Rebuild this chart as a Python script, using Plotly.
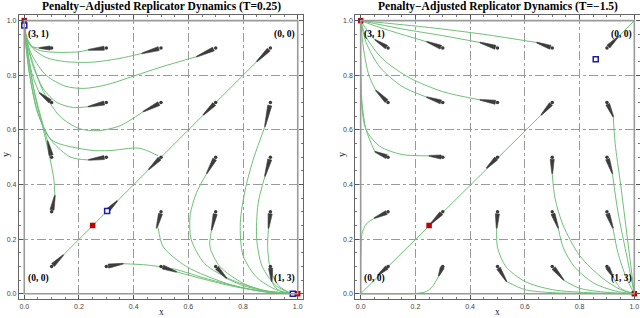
import plotly.graph_objects as go
import numpy as np

TITLES = ["Penalty\u2212Adjusted Replicator Dynamics (T=0.25)",
          "Penalty\u2212Adjusted Replicator Dynamics (T=\u22121.5)"]
TICKS = [0.0, 0.2, 0.4, 0.6, 0.8, 1.0]
TICK_TEXT = ["0.0", "0.2", "0.4", "0.6", "0.8", "1.0"]

# corner payoff labels (x, y, text)
CORNER_X = [0.052, 0.952, 0.052, 0.952]
CORNER_Y = [0.951, 0.951, 0.054, 0.054]
CORNER_T = ["(3, 1)", "(0, 0)", "(0, 0)", "(1, 3)"]

# equilibria
L_red_x, L_red_y = [0.0, 1.0, 0.25], [1.0, 0.0, 0.25]
L_blue_x, L_blue_y = [0.0, 0.303, 0.982], [0.982, 0.303, 0.0]
R_red_x, R_red_y = [0.0, 1.0, 0.25], [1.0, 0.0, 0.25]
R_blue_x, R_blue_y = [0.859], [0.859]

# glyph heads (grid points) and tails, rows y = 0.9 .. 0.1
HEAD_X = [0.1, 0.3, 0.5, 0.7, 0.9] * 5
HEAD_Y = [0.9] * 5 + [0.7] * 5 + [0.5] * 5 + [0.3] * 5 + [0.1] * 5

L_tail_x = [0.055, 0.234, 0.430, 0.630, 0.850,
            0.055, 0.234, 0.435, 0.655, 0.880,
            0.085, 0.235, 0.455, 0.667, 0.880,
            0.112, 0.340, 0.484, 0.685, 0.893,
            0.143, 0.362, 0.557, 0.740, 0.905]
L_tail_y = [0.900, 0.893, 0.880, 0.868, 0.850,
            0.736, 0.685, 0.667, 0.655, 0.612,
            0.560, 0.490, 0.455, 0.440, 0.430,
            0.360, 0.340, 0.240, 0.233, 0.240,
            0.142, 0.110, 0.080, 0.056, 0.045]

R_tail_x = [0.052, 0.241, 0.436, 0.643, 0.942,
            0.055, 0.241, 0.436, 0.660, 0.923,
            0.052, 0.250, 0.460, 0.700, 0.920,
            0.050, 0.255, 0.497, 0.722, 0.922,
            0.063, 0.285, 0.533, 0.742, 0.923]
R_tail_y = [0.930, 0.923, 0.920, 0.920, 0.942,
            0.745, 0.720, 0.710, 0.655, 0.648,
            0.520, 0.505, 0.460, 0.440, 0.440,
            0.277, 0.255, 0.240, 0.240, 0.240,
            0.068, 0.065, 0.045, 0.050, 0.060]

# green trajectories
L_curve_x = [
    [0.143, 0.85],
    [0.055, 0.03, 0.012, 0.002],
    [0.234, 0.2, 0.12, 0.06, 0.02, 0.005, 0.002],
    [0.43, 0.35, 0.25, 0.15, 0.08, 0.03, 0.005, 0.002],
    [0.63, 0.5, 0.4, 0.3, 0.22, 0.15, 0.08, 0.03, 0.005, 0.002],
    [0.234, 0.18, 0.12, 0.07, 0.03, 0.008, 0.002],
    [0.435, 0.35, 0.27, 0.2, 0.13, 0.07, 0.03, 0.008, 0.002],
    [0.055, 0.03, 0.01, 0.002],
    [0.085, 0.06, 0.035, 0.015, 0.002],
    [0.112, 0.108, 0.095, 0.07, 0.04, 0.015, 0.002],
    [0.235, 0.17, 0.1, 0.05, 0.02, 0.005, 0.002],
    [0.49, 0.42, 0.31, 0.24, 0.1, 0.05, 0.02, 0.004, 0.002],
    [0.362, 0.45, 0.55, 0.65, 0.75, 0.85, 0.93, 0.975],
    [0.557, 0.65, 0.75, 0.85, 0.975],
    [0.74, 0.8, 0.88, 0.975],
    [0.905, 0.92, 0.95, 0.975],
    [0.49, 0.508, 0.594, 0.74, 0.874, 0.975],
    [0.685, 0.679, 0.716, 0.801, 0.892, 0.975],
    [0.893, 0.89, 0.9, 0.93, 0.975],
    [0.667, 0.63, 0.607, 0.61, 0.66, 0.76, 0.88, 0.975],
    [0.88, 0.855, 0.85, 0.87, 0.92, 0.975],
    [0.88, 0.84, 0.81, 0.79, 0.8, 0.85, 0.92, 0.975],
]
L_curve_y = [
    [0.142, 0.85],
    [0.9, 0.905, 0.93, 0.975],
    [0.893, 0.886, 0.884, 0.89, 0.91, 0.95, 0.975],
    [0.88, 0.862, 0.848, 0.85, 0.865, 0.9, 0.95, 0.975],
    [0.868, 0.83, 0.797, 0.765, 0.752, 0.76, 0.8, 0.87, 0.94, 0.975],
    [0.685, 0.682, 0.7, 0.75, 0.84, 0.93, 0.975],
    [0.667, 0.615, 0.597, 0.605, 0.65, 0.74, 0.85, 0.93, 0.975],
    [0.736, 0.8, 0.9, 0.975],
    [0.56, 0.65, 0.75, 0.87, 0.975],
    [0.36, 0.42, 0.49, 0.6, 0.72, 0.86, 0.975],
    [0.49, 0.5, 0.56, 0.66, 0.8, 0.92, 0.975],
    [0.505, 0.533, 0.524, 0.526, 0.563, 0.66, 0.8, 0.93, 0.975],
    [0.11, 0.105, 0.09, 0.06, 0.033, 0.012, 0.003, 0.001],
    [0.08, 0.055, 0.03, 0.012, 0.001],
    [0.056, 0.03, 0.01, 0.001],
    [0.045, 0.02, 0.005, 0.001],
    [0.24, 0.172, 0.099, 0.038, 0.007, 0.001],
    [0.233, 0.172, 0.099, 0.038, 0.007, 0.001],
    [0.24, 0.17, 0.09, 0.03, 0.001],
    [0.44, 0.37, 0.29, 0.2, 0.11, 0.05, 0.012, 0.001],
    [0.43, 0.33, 0.2, 0.1, 0.03, 0.001],
    [0.612, 0.5, 0.39, 0.26, 0.14, 0.06, 0.015, 0.001],
]

R_curve_x = [
    [0.052, 0.02, 0.0],
    [0.241, 0.15, 0.07, 0.0],
    [0.436, 0.3, 0.15, 0.0],
    [0.643, 0.45, 0.25, 0.0],
    [0.055, 0.03, 0.01, 0.0],
    [0.241, 0.15, 0.07, 0.02, 0.0],
    [0.436, 0.3, 0.18, 0.08, 0.02, 0.0],
    [0.052, 0.02, 0.005, 0.0, 0.0],
    [0.25, 0.15, 0.07, 0.02, 0.003, 0.0],
    [0.942, 1.0],
    [0.66, 0.0],
    [0.05, 0.02, 0.005, 0.001, 0.0],
    [0.285, 0.265, 0.24, 0.2, 0.1, 0.0],
    [0.533, 0.6, 0.7, 0.85, 1.0],
    [0.742, 0.8, 0.9, 1.0],
    [0.923, 0.95, 1.0],
    [0.497, 0.5, 0.53, 0.6, 0.7, 0.85, 1.0],
    [0.722, 0.74, 0.78, 0.85, 0.93, 1.0],
    [0.922, 0.94, 0.97, 1.0],
    [0.7, 0.71, 0.74, 0.8, 0.88, 0.95, 1.0],
    [0.92, 0.94, 0.97, 1.0],
    [0.923, 0.93, 0.95, 0.975, 1.0],
]
R_curve_y = [
    [0.93, 0.97, 1.0],
    [0.923, 0.95, 0.975, 1.0],
    [0.92, 0.945, 0.97, 1.0],
    [0.92, 0.95, 0.975, 1.0],
    [0.745, 0.8, 0.9, 1.0],
    [0.72, 0.76, 0.83, 0.92, 1.0],
    [0.71, 0.74, 0.79, 0.86, 0.94, 1.0],
    [0.52, 0.6, 0.7, 0.85, 1.0],
    [0.505, 0.51, 0.54, 0.6, 0.7, 1.0],
    [0.942, 1.0],
    [0.655, 0.0],
    [0.277, 0.255, 0.22, 0.15, 0.0],
    [0.065, 0.03, 0.008, 0.001, 0.0, 0.0],
    [0.045, 0.015, 0.004, 0.001, 0.0],
    [0.05, 0.02, 0.005, 0.0],
    [0.06, 0.02, 0.0],
    [0.24, 0.17, 0.1, 0.045, 0.015, 0.003, 0.0],
    [0.24, 0.17, 0.1, 0.04, 0.01, 0.0],
    [0.24, 0.15, 0.06, 0.0],
    [0.44, 0.35, 0.25, 0.14, 0.06, 0.015, 0.0],
    [0.44, 0.3, 0.15, 0.0],
    [0.648, 0.55, 0.4, 0.2, 0.0],
]

GREEN = "rgb(110,192,120)"
GLYPH = "#3c3c3c"
RED = "#c00000"
BLUE = "#1c1ca8"
SERIF = "Liberation Serif"

fig = go.Figure()


def wedge_path(hx, hy, tx, ty, w0=0.0075, w1=0.0015):
    xs, ys = [], []
    for a, b, c, d in zip(hx, hy, tx, ty):
        dx, dy = c - a, d - b
        n = np.hypot(dx, dy)
        px, py = -dy / n, dx / n
        sx, sy = a + dx * 0.12, b + dy * 0.12
        xs += [sx + px * w0, c + px * w1, c - px * w1, sx - px * w0, sx + px * w0, None]
        ys += [sy + py * w0, d + py * w1, d - py * w1, sy - py * w0, sy + py * w0, None]
    return xs, ys


panels = [
    ("x", "y", L_curve_x, L_curve_y, L_tail_x, L_tail_y, L_red_x, L_red_y, L_blue_x, L_blue_y),
    ("x2", "y2", R_curve_x, R_curve_y, R_tail_x, R_tail_y, R_red_x, R_red_y, R_blue_x, R_blue_y),
]
for xa, ya, cx, cy, tx, ty, rx, ry, bx, by in panels:
    for xs, ys in zip(cx, cy):
        fig.add_trace(go.Scatter(x=xs, y=ys, mode="lines", xaxis=xa, yaxis=ya,
                                 line=dict(color=GREEN, width=1, shape="spline", smoothing=0.8),
                                 hoverinfo="skip", showlegend=False))
    wx, wy = wedge_path(HEAD_X, HEAD_Y, tx, ty)
    fig.add_trace(go.Scatter(x=wx, y=wy, mode="lines", fill="toself", fillcolor=GLYPH,
                             line=dict(color=GLYPH, width=0.6), xaxis=xa, yaxis=ya,
                             hoverinfo="skip", showlegend=False))
    fig.add_trace(go.Scatter(x=HEAD_X, y=HEAD_Y, mode="markers", xaxis=xa, yaxis=ya,
                             marker=dict(color=GLYPH, size=3.5), hoverinfo="skip", showlegend=False))
    fig.add_trace(go.Scatter(x=rx, y=ry, mode="markers", xaxis=xa, yaxis=ya,
                             marker=dict(color=RED, size=5.5, symbol="square"),
                             hoverinfo="skip", showlegend=False, cliponaxis=False))
    fig.add_trace(go.Scatter(x=bx, y=by, mode="markers", xaxis=xa, yaxis=ya,
                             marker=dict(color="white", size=5, symbol="square",
                                         line=dict(color=BLUE, width=1.5)),
                             hoverinfo="skip", showlegend=False, cliponaxis=False))

W, H = 640, 318
ax_common = dict(range=[-0.02, 1.02], tickvals=TICKS, ticktext=TICK_TEXT, automargin=False,
                 ticks="inside", ticklen=4, tickcolor="#555", tickwidth=1,
                 showline=True, linecolor="#666", linewidth=1, mirror="ticks",
                 showgrid=True, gridcolor="#9a9a9a", griddash="dashdot", gridwidth=0.7,
                 zeroline=False, tickfont=dict(family="Liberation Sans", size=7, color="#444"),
                 minor=dict(dtick=0.05, ticks="inside", ticklen=2, tickcolor="#777", showgrid=False))
ydom = [(H - 299.2) / H, (H - 15.2) / H]
fig.update_layout(
    width=W, height=H, margin=dict(l=0, r=0, t=0, b=0, autoexpand=False),
    paper_bgcolor="white", plot_bgcolor="white",
    xaxis=dict(domain=[18.8 / W, 303.2 / W], anchor="y", **ax_common),
    yaxis=dict(domain=ydom, anchor="x", **ax_common),
    xaxis2=dict(domain=[355.2 / W, 639.8 / W], anchor="y2", **ax_common),
    yaxis2=dict(domain=ydom, anchor="x2", **ax_common),
)

shapes = []
anns = []
for i, (xa, ya) in enumerate([("x", "y"), ("x2", "y2")]):
    shapes.append(dict(type="rect", xref=xa, yref=ya, x0=0, y0=0, x1=1.0, y1=1.0,
                       line=dict(color="#9a9a9a", width=1.6), layer="above"))
    for cxp, cyp, t in zip(CORNER_X, CORNER_Y, CORNER_T):
        anns.append(dict(x=cxp, y=cyp, xref=xa, yref=ya, text="<b>%s</b>" % t, showarrow=False,
                         font=dict(family=SERIF, size=9.5, color="black")))
    cx_px = 161 if i == 0 else 497.5
    anns.append(dict(x=cx_px / W, y=(H - 7) / H, xref="paper", yref="paper", text="<b>%s</b>" % TITLES[i],
                     showarrow=False, font=dict(family=SERIF, size=11.5, color="black"),
                     xanchor="center", yanchor="middle"))
    anns.append(dict(x=cx_px / W, y=(H - 311.5) / H, xref="paper", yref="paper", text="x",
                     showarrow=False, font=dict(family=SERIF, size=9.5, color="#222"),
                     xanchor="center", yanchor="middle"))
    yx = 5 if i == 0 else 341
    anns.append(dict(x=yx / W, y=(H - 155) / H, xref="paper", yref="paper", text="y",
                     showarrow=False, textangle=-90, font=dict(family=SERIF, size=10, color="#222"),
                     xanchor="center", yanchor="middle"))
fig.update_layout(shapes=shapes, annotations=anns)

fig.write_html("out.html", config={"displayModeBar": False},
               post_script="document.body.style.margin='0';document.body.style.padding='0';"
                           "document.documentElement.style.overflow='hidden';")
